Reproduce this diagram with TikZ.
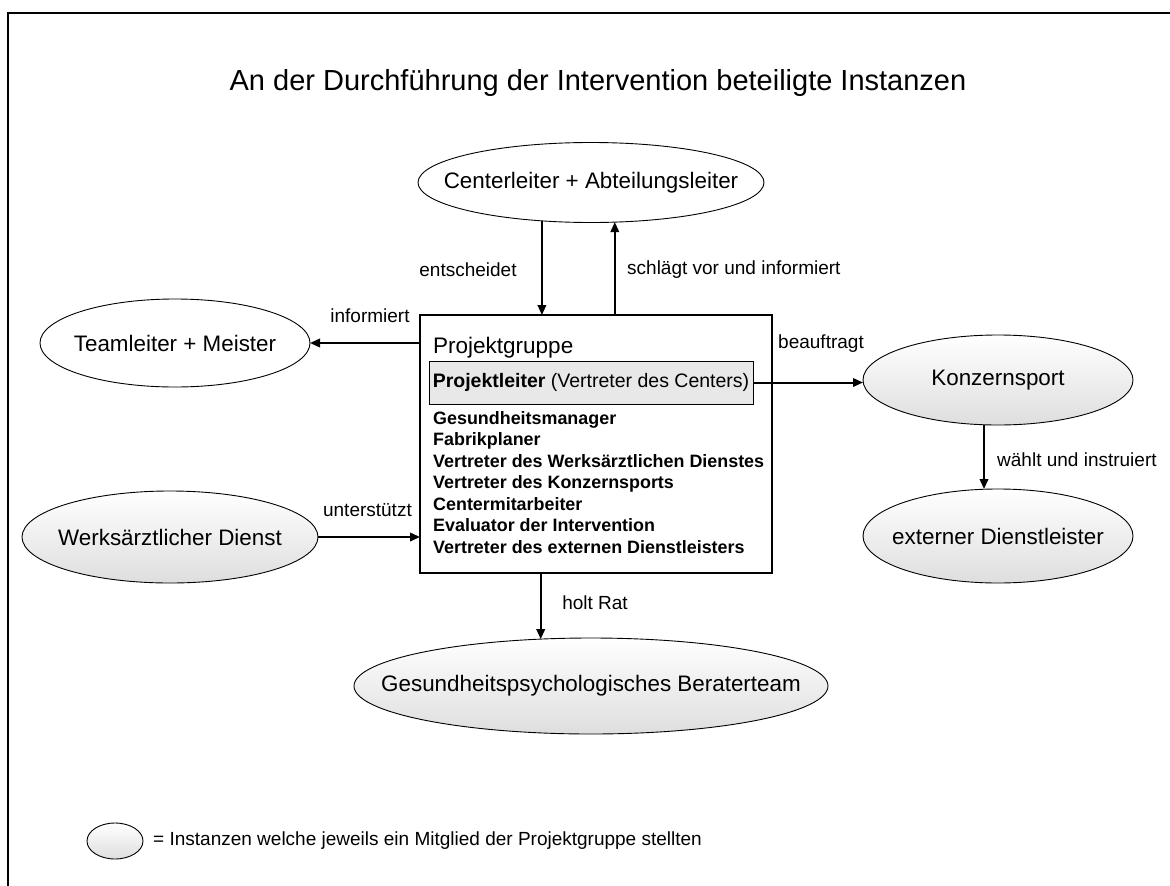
\documentclass[tikz,border=0pt]{standalone}
\usepackage{fontspec}
\setmainfont{Liberation Sans}
\usetikzlibrary{arrows.meta,shapes.geometric,calc}
\definecolor{shadebot}{RGB}{222,222,222}
\definecolor{boxgray}{RGB}{232,232,232}
\begin{document}
\begin{tikzpicture}[x=1pt,y=-1pt,
  inst/.style={ellipse,draw,line width=0.9pt,inner sep=0pt,outer sep=0pt,font=\fontsize{22.4}{26}\selectfont},
  shaded/.style={top color=white,bottom color=shadebot},
  lbl/.style={inner sep=0pt,font=\fontsize{19}{22}\selectfont},
  mem/.style={anchor=base west,inner sep=0pt,font=\fontsize{17.9}{21}\selectfont\bfseries},
  arr/.style={line width=2pt,-{Triangle[length=10pt,width=8.5pt]}}
]
\useasboundingbox (0,0) rectangle (1170,886);
\draw[line width=1.3pt] (8,886) -- (8,13) -- (1175,13);

\node[inner sep=0pt,font=\fontsize{29}{34}\selectfont] (title) at (598,83) {An der Durchführung der Intervention beteiligte Instanzen};

% instances
\node[inst,minimum width=346pt,minimum height=80pt] (cl) at (591,182.5) {\makebox[0pt]{Centerleiter + Abteilungsleiter}};
\node[inst,minimum width=270pt,minimum height=88pt] (tm) at (175,343) {\makebox[0pt]{Teamleiter + Meister}};
\node[inst,shaded,minimum width=270pt,minimum height=90pt] (ks) at (998,380) {\makebox[0pt]{Konzernsport}};
\node[inst,shaded,minimum width=270pt,minimum height=94pt] (ed) at (998,536) {\makebox[0pt]{externer Dienstleister}};
\node[inst,shaded,minimum width=296pt,minimum height=92pt] (wd) at (170,537) {\makebox[0pt]{Werksärztlicher Dienst}};
\node[inst,shaded,minimum width=474pt,minimum height=96pt] (gb) at (591,686) {\makebox[0pt]{Gesundheitspsychologisches Beraterteam}};

% project group box
\node[draw,line width=1.3pt,rectangle,inner sep=0pt,outer sep=0pt,minimum width=352pt,minimum height=258pt] (pg) at (596,444) {};
\node[anchor=base west,inner sep=0pt,font=\fontsize{22.5}{26}\selectfont] (pgt) at (433,353) {Projektgruppe};
\node[draw,line width=1pt,fill=boxgray,rectangle,inner sep=0pt,outer sep=0pt,minimum width=324pt,minimum height=43pt,font=\fontsize{19.5}{23}\selectfont] (pl) at (591,382.5) {\textbf{Projektleiter} (Vertreter des Centers)};
\node[mem] (m1) at (433,424) {Gesundheitsmanager};
\node[mem] (m2) at (433,445.5) {Fabrikplaner};
\node[mem] (m3) at (433,467) {Vertreter des Werksärztlichen Dienstes};
\node[mem] (m4) at (433,488.5) {Vertreter des Konzernsports};
\node[mem] (m5) at (433,510) {Centermitarbeiter};
\node[mem] (m6) at (433,531.5) {Evaluator der Intervention};
\node[mem] (m7) at (433,553) {Vertreter des externen Dienstleisters};

% connectors
\draw[arr] (cl.-142.5) -- (cl.-142.5 |- pg.north);
\draw[arr] (cl.-59.9 |- pg.north) -- (cl.-59.9);
\draw[arr] (pg.west |- tm.east) -- (tm.east);
\draw[arr] (pl.east) -- (pl.east -| ks.west);
\draw[arr] ($(ks.south)+(-14,0)$) -- ($(ed.north)+(-14,0)$);
\draw[arr] (wd.east) -- (wd.east -| pg.west);
\draw[arr] (gb.137.4 |- pg.south) -- (gb.137.4);

% labels
\node[lbl] (l1) at (468,270) {entscheidet};
\node[lbl,anchor=west] (l2) at (627,270) {schlägt vor und informiert};
\node[lbl] (l3) at (370,316) {informiert};
\node[lbl] (l4) at (821,344) {beauftragt};
\node[lbl,anchor=west] (l5) at (997,460) {wählt und instruiert};
\node[lbl,anchor=east] (l6) at (412,510) {unterstützt};
\node[lbl] (l7) at (595,603) {holt Rat};

% legend
\node[inst,shaded,minimum width=56pt,minimum height=36pt] (lg) at (115,841) {};
\node[lbl,anchor=west] (lgt) at (153,841) {= Instanzen welche jeweils ein Mitglied der Projektgruppe stellten};
\end{tikzpicture}
\end{document}
